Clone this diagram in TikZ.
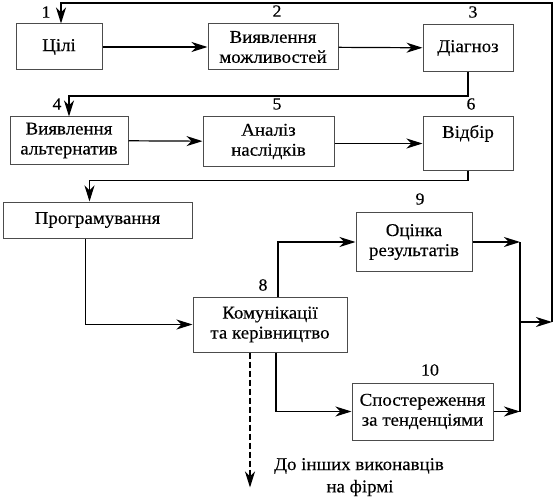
\documentclass[tikz,border=0pt]{standalone}
\usepackage{fontspec}
\setmainfont{Liberation Serif}[FakeStretch=1.05,FakeBold=0.3]
\usetikzlibrary{arrows.meta}
\begin{document}
\begin{tikzpicture}[x=1pt,y=-1pt,
  box/.style={draw=black!70,line width=1pt,align=center,inner sep=0pt,font=\fontsize{18}{20}\selectfont},
  num/.style={font=\fontsize{17}{18}\selectfont,inner sep=0pt},
  conn/.style={line width=1.2pt,-{Stealth[length=16pt,width=10pt,inset=5pt]}},
  plain/.style={line width=1.2pt}]
\useasboundingbox (0,0) rectangle (554,500);
\node[box,minimum width=86pt,minimum height=46pt] (b1) at (59,47) {Цілі};
\node[box,minimum width=130pt,minimum height=46pt] (b2) at (273,47) {Виявлення\\можливостей};
\node[box,minimum width=90pt,minimum height=47pt] (b3) at (468,48) {Діагноз};
\node[box,minimum width=118pt,minimum height=47pt] (b4) at (69,140.5) {Виявлення\\альтернатив};
\node[box,minimum width=131pt,minimum height=49pt] (b5) at (268.5,141.5) {Аналіз\\наслідків};
\node[box,minimum width=90pt,minimum height=53pt,text depth=24pt] (b6) at (468,143.5) {Відбір};
\node[box,minimum width=189pt,minimum height=36pt] (b7) at (97.5,220) {Програмування};
\node[box,minimum width=154pt,minimum height=55pt] (b8) at (270,324.5) {Комунікації\\та керівництво};
\node[box,minimum width=116pt,minimum height=59pt] (b9) at (414,242) {Оцінка\\результатів};
\node[box,minimum width=141pt,minimum height=57pt] (b10) at (422.5,411.5) {Спостереження\\за тенденціями};
\node[num] (n1) at (46,12) {1};
\node[num] (n2) at (277,11) {2};
\node[num] (n3) at (473,12) {3};
\node[num] (n4) at (57,104) {4};
\node[num] (n5) at (277,104) {5};
\node[num] (n6) at (471,104) {6};
\node[num] (n8) at (263,285) {8};
\node[num] (n9) at (420,199) {9};
\node[num] (n10) at (430,370) {10};
\node[box,draw=none] (t1) at (359,466) {До інших виконавців};
\node[box,draw=none] (t2) at (360,488) {на фірмі};
\coordinate (m) at (520,322);
\coordinate (r) at (552,322);
\draw[conn] (b1) -- (b2);
\draw[conn] (b2) -- (b3);
\draw[conn] (b3.south) -- ++(0,24) -| (b4.north);
\draw[conn] (b4) -- (b5);
\draw[conn] (b5.east |- b6.west) -- (b6.west);
\draw[conn] (b6.south) -- ++(0,10) -| ([xshift=-8pt]b7.north);
\draw[conn] ([xshift=-12pt]b7.south) |- (b8.west);
\draw[conn] ([xshift=8pt]b8.north) |- (b9.west);
\draw[conn] ([xshift=6pt]b8.south) |- (b10.west);
\draw[conn] (b9.east) -- (b9.east -| m);
\draw[conn] (b10.east) -- (b10.east -| m);
\draw[plain] (b9.east -| m) -- (b10.east -| m);
\draw[conn] (m) -- (r);
\draw[conn] (r) -- (r |- 0,3) -| ([xshift=2pt]b1.north);
\draw[conn,dash pattern=on 6pt off 3pt] ([xshift=-20pt]b8.south) -- ++(0,135);
\end{tikzpicture}
\end{document}
